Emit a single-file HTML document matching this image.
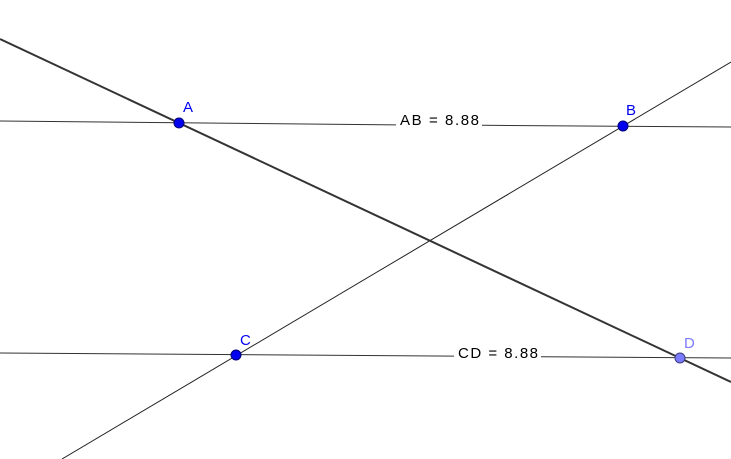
<!DOCTYPE html>
<html><head><style>body{margin:0;background:#fff}svg{display:block}</style></head><body>
<svg width="731" height="459" xmlns="http://www.w3.org/2000/svg" font-family="Liberation Sans, sans-serif">
<line x1="0" y1="121" x2="396" y2="124.9" stroke="#333" stroke-width="1"/>
<line x1="482" y1="125.3" x2="731" y2="127" stroke="#333" stroke-width="1"/>
<line x1="0" y1="353" x2="454" y2="356.1" stroke="#333" stroke-width="1"/>
<line x1="541" y1="356.7" x2="731" y2="358" stroke="#333" stroke-width="1"/>
<line x1="731" y1="62" x2="62" y2="459" stroke="#222" stroke-width="1"/>
<line x1="0" y1="39" x2="731" y2="382" stroke="#333" stroke-width="2"/>
<text x="400" y="125" font-size="15" fill="#000" textLength="79" lengthAdjust="spacing">AB = 8.88</text>
<text x="458" y="358" font-size="15" fill="#000" textLength="80" lengthAdjust="spacing">CD = 8.88</text>
<circle cx="179" cy="123" r="5" fill="#0000ee" stroke="#00007a" stroke-width="1"/>
<circle cx="623" cy="126" r="5" fill="#0000ee" stroke="#00007a" stroke-width="1"/>
<circle cx="236" cy="355" r="5" fill="#0000ee" stroke="#00007a" stroke-width="1"/>
<circle cx="680" cy="358" r="5" fill="#7b7bff" stroke="#3d3d80" stroke-width="1"/>
<text x="183" y="112" font-size="15" fill="#0000ee">A</text>
<text x="626" y="115" font-size="15" fill="#0000ee">B</text>
<text x="240" y="345" font-size="15" fill="#0000ee">C</text>
<text x="684" y="348" font-size="15" fill="#7b7bff">D</text>
</svg>
</body></html>
